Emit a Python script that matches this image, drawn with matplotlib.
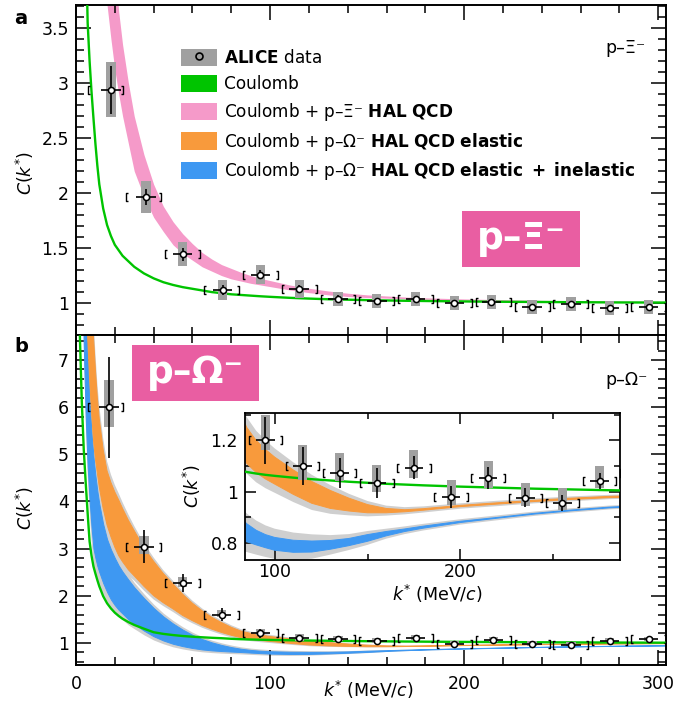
import numpy as np
import matplotlib
matplotlib.use("Agg")
import matplotlib.pyplot as plt
from matplotlib.patches import Rectangle, Patch
from matplotlib.lines import Line2D
from matplotlib.path import Path
from matplotlib.ticker import MultipleLocator, FormatStrFormatter

plt.rcParams['font.family'] = ['DejaVu Sans']
plt.rcParams['mathtext.fontset'] = 'dejavusans'

GREEN = '#00c400'
PINK = '#f59ac9'
ORANGE = '#f89a3c'
BLUE = '#3e98f2'
BAND_GRAY = '#cfcfcf'
BOX_GRAY = '#a0a0a0'
TAG_PINK = '#e95ea2'
FS = 12.5
nan = np.nan

# k* bin edges of the measured correlation functions (MeV/c)
bin_edges = [5, 25, 45, 65, 85, 105, 125, 145, 165, 185, 205, 225, 245, 265, 285, 305]

# ---- p-Xi- measurement ----
k_xi = [18, 36, 55, 75.5, 95, 115, 135, 155, 175, 195, 214, 235, 255, 275, 295]
c_xi = [2.94, 1.965, 1.445, 1.12, 1.26, 1.13, 1.04, 1.02, 1.035, 1.0, 1.01, 0.965, 0.99, 0.955, 0.965]
stat_xi = [0.22, 0.075, 0.06, 0.045, 0.04, 0.035, 0.03, 0.03, 0.03, 0.03, 0.03, 0.03, 0.03, 0.03, 0.03]
sys_xi = [0.25, 0.145, 0.11, 0.09, 0.09, 0.08, 0.065, 0.065, 0.065, 0.065, 0.065, 0.065, 0.065, 0.065, 0.065]

# ---- p-Omega- measurement ----
k_om = [17, 35, 55, 75, 95, 115, 135, 155, 175, 195, 215, 235, 255, 275, 295]
c_om = [6.0, 3.04, 2.27, 1.6, 1.2, 1.10, 1.074, 1.035, 1.093, 0.98, 1.054, 0.977, 0.957, 1.043, 1.075]
stat_om = [1.07, 0.35, 0.19, 0.14, 0.093, 0.075, 0.058, 0.058, 0.045, 0.042, 0.042, 0.036, 0.032, 0.032, 0.032]
sys_up_om = [0.57, 0.22, 0.12, 0.09, 0.1, 0.083, 0.077, 0.07, 0.07, 0.067, 0.064, 0.058, 0.058, 0.057, 0.057]
sys_dn_om = [0.42, 0.15, 0.08, 0.05, 0.037, 0.053, 0.034, 0.035, 0.04, 0.03, 0.039, 0.034, 0.027, 0.028, 0.028]

# ---- model curves, sampled in k* (MeV/c) ----
k_th = [2, 3, 4, 5, 6, 7, 8, 9, 10, 11, 12, 14, 16, 18, 20, 22, 24, 27, 30,
        35, 40, 45, 50, 55, 60, 65, 70, 75, 80, 85, 90, 95, 100,
        110, 120, 130, 140, 150, 160, 170, 180, 200, 220, 240, 260, 280, 305]

coulomb_xi = [nan, nan, 6.0, 4.4, 3.55, 3.2, 2.92, 2.68, 2.45, 2.25, 2.08, 1.86, 1.71, 1.61, 1.53, 1.48, 1.43, 1.38, 1.33,
              1.27, 1.225, 1.19, 1.165, 1.145, 1.13, 1.115, 1.10, 1.09, 1.08, 1.074, 1.068, 1.062, 1.057,
              1.048, 1.041, 1.035, 1.031, 1.027, 1.024, 1.021, 1.019, 1.015, 1.012, 1.01, 1.008, 1.006, 1.005]
halqcd_xi_lo = [nan, nan, nan, nan, nan, nan, nan, nan, nan, nan, nan, 4.3, 3.71, 3.4, 3.12, 2.9, 2.7, 2.45, 2.2,
                1.97, 1.78, 1.65, 1.53, 1.45, 1.39, 1.33, 1.29, 1.25, 1.22, 1.2, 1.18, 1.165, 1.15,
                1.12, 1.095, 1.075, 1.06, 1.05, 1.045, 1.04, 1.035, 1.028, 1.022, 1.018, 1.014, 1.011, 1.009]
halqcd_xi_hi = [nan, nan, nan, nan, nan, nan, nan, nan, nan, nan, nan, 6.5, 5.3, 4.7, 4.1, 3.65, 3.35, 3.0, 2.7,
                2.35, 2.08, 1.88, 1.74, 1.63, 1.54, 1.46, 1.4, 1.35, 1.315, 1.28, 1.25, 1.225, 1.205,
                1.165, 1.135, 1.11, 1.09, 1.075, 1.065, 1.055, 1.048, 1.038, 1.031, 1.025, 1.021, 1.018, 1.015]

coulomb_om = [7.5, 6.1, 5.1, 4.4, 3.75, 3.15, 2.85, 2.62, 2.47, 2.33, 2.2, 1.99, 1.84, 1.73, 1.64, 1.57, 1.51, 1.44, 1.38,
              1.3, 1.225, 1.19, 1.165, 1.145, 1.13, 1.118, 1.107, 1.098, 1.086, 1.077, 1.071, 1.066, 1.062,
              1.055, 1.049, 1.044, 1.039, 1.035, 1.031, 1.028, 1.025, 1.02, 1.016, 1.012, 1.009, 1.006, 1.003]
inel_om_lo = [nan, 9.5, 7.3, 5.8, 4.75, 4.03, 3.45, 3.0, 2.8, 2.63, 2.5, 2.27, 2.08, 1.92, 1.8, 1.7, 1.62, 1.5, 1.4,
              1.26, 1.14, 1.05, 0.98, 0.93, 0.89, 0.86, 0.84, 0.826, 0.815, 0.805, 0.793, 0.782, 0.772,
              0.764, 0.765, 0.776, 0.79, 0.807, 0.828, 0.845, 0.858, 0.88, 0.897, 0.913, 0.926, 0.937, 0.946]
inel_om_hi = [nan, 13.0, 9.8, 8.1, 7.0, 6.1, 5.45, 4.95, 4.55, 4.22, 3.95, 3.52, 3.2, 2.98, 2.8, 2.64, 2.51, 2.34, 2.18,
              1.95, 1.74, 1.56, 1.41, 1.28, 1.17, 1.08, 1.01, 0.955, 0.91, 0.875, 0.85, 0.833, 0.822,
              0.811, 0.808, 0.81, 0.818, 0.833, 0.845, 0.855, 0.866, 0.885, 0.9, 0.916, 0.929, 0.94, 0.949]
el_om_lo = [nan, nan, 12.0, 9.0, 7.5, 6.6, 5.9, 5.3, 4.9, 4.6, 4.3, 3.85, 3.5, 3.25, 3.03, 2.85, 2.72, 2.55, 2.42,
            2.2, 2.0, 1.85, 1.72, 1.58, 1.47, 1.37, 1.29, 1.22, 1.16, 1.11, 1.075, 1.05, 1.03,
            0.99, 0.955, 0.935, 0.925, 0.918, 0.918, 0.922, 0.928, 0.942, 0.952, 0.962, 0.97, 0.977, 0.982]
el_om_hi = [nan, nan, 20.0, 16.0, 13.0, 11.0, 9.0, 7.5, 6.8, 6.2, 5.75, 5.1, 4.65, 4.4, 4.2, 4.03, 3.85, 3.6, 3.38,
            3.02, 2.73, 2.47, 2.25, 2.03, 1.84, 1.68, 1.54, 1.43, 1.33, 1.25, 1.2, 1.165, 1.135,
            1.085, 1.04, 1.005, 0.975, 0.95, 0.935, 0.93, 0.934, 0.947, 0.957, 0.967, 0.975, 0.982, 0.987]
# width of the light grey uncertainty envelope around the p-Omega- bands
band_pad = [0.4, 0.4, 0.4, 0.4, 0.4, 0.4, 0.4, 0.4, 0.35, 0.3, 0.28, 0.24, 0.2, 0.17, 0.15, 0.14, 0.13, 0.12, 0.1,
            0.09, 0.08, 0.07, 0.065, 0.06, 0.055, 0.05, 0.047, 0.045, 0.043, 0.04, 0.038, 0.036, 0.034,
            0.03, 0.026, 0.021, 0.017, 0.014, 0.011, 0.01, 0.009, 0.008, 0.008, 0.007, 0.007, 0.006, 0.006]

k_th_a = np.array(k_th, dtype=float)
pad = np.array(band_pad)

LEFT_BRACKET = Path([(0.55, -1), (0, -1), (0, 1), (0.55, 1)],
                    [Path.MOVETO, Path.LINETO, Path.LINETO, Path.LINETO])
RIGHT_BRACKET = Path([(-0.55, -1), (0, -1), (0, 1), (-0.55, 1)],
                     [Path.MOVETO, Path.LINETO, Path.LINETO, Path.LINETO])


def draw_points(ax, k, c, stat, sys_dn, sys_up):
    k = np.asarray(k, float)
    c = np.asarray(c, float)
    sys_dn = np.asarray(sys_dn, float)
    sys_up = np.asarray(sys_up, float)
    edges = np.asarray(bin_edges, float)
    ax.bar(k, sys_dn + sys_up, bottom=c - sys_dn, width=4.8, color=BOX_GRAY,
           linewidth=0, zorder=5)
    ax.errorbar(k, c, yerr=stat, xerr=5, fmt='none', ecolor='black',
                elinewidth=1.2, capsize=0, zorder=6)
    ax.plot(edges[:-1] + 1, c, ls='none', marker=LEFT_BRACKET, ms=5.5,
            mec='black', mfc='none', mew=1.0, zorder=6)
    ax.plot(edges[1:] - 1, c, ls='none', marker=RIGHT_BRACKET, ms=5.5,
            mec='black', mfc='none', mew=1.0, zorder=6)
    ax.plot(k, c, ls='none', marker='o', ms=4.4, mfc='white', mec='black',
            mew=1.1, zorder=7)


def draw_omega_models(ax):
    for lo, hi, col in ((inel_om_lo, inel_om_hi, BLUE), (el_om_lo, el_om_hi, ORANGE)):
        lo = np.array(lo)
        hi = np.array(hi)
        ax.fill_between(k_th_a, lo - pad, hi + pad, color=BAND_GRAY, lw=0, zorder=1)
        ax.fill_between(k_th_a, lo, hi, facecolor=col, edgecolor=col, lw=0.7, zorder=2)
    ax.plot(k_th_a, coulomb_om, color=GREEN, lw=1.7, zorder=3)


def style(ax, major, minor, pad_x, pad_y, lw=1.4):
    ax.tick_params(which='both', direction='in', top=True, right=True,
                   width=1.1, colors='black', labelsize=FS)
    ax.tick_params(which='major', length=major)
    ax.tick_params(which='minor', length=minor)
    ax.tick_params(axis='x', pad=pad_x)
    ax.tick_params(axis='y', pad=pad_y)
    for s in ax.spines.values():
        s.set_linewidth(lw)
    ax.yaxis.set_major_formatter(FormatStrFormatter('%g'))


fig = plt.figure(figsize=(6.8, 7.07), dpi=100)
W, H = 680.0, 707.0

ax_a = fig.add_axes([76 / W, 1 - 335 / H, 590 / W, 330 / H])
ax_b = fig.add_axes([76 / W, 1 - 665 / H, 590 / W, 330 / H])
ax_in = fig.add_axes([245 / W, 1 - 560 / H, 375 / W, 147 / H])

# ---------- panel a: p-Xi- ----------
ax_a.fill_between(k_th_a, halqcd_xi_lo, halqcd_xi_hi, color=PINK, lw=0, zorder=1)
ax_a.plot(k_th_a, coulomb_xi, color=GREEN, lw=1.7, zorder=3)
draw_points(ax_a, k_xi, c_xi, stat_xi, sys_xi, sys_xi)
ax_a.set_xlim(0, 304)
ax_a.set_ylim(0.71, 3.71)
ax_a.xaxis.set_major_locator(MultipleLocator(100))
ax_a.xaxis.set_minor_locator(MultipleLocator(20))
ax_a.yaxis.set_major_locator(MultipleLocator(0.5))
ax_a.yaxis.set_minor_locator(MultipleLocator(0.1))
style(ax_a, 11, 5.5, 7, 5)
ax_a.tick_params(labelbottom=False)

handles = [
    (Patch(facecolor=BOX_GRAY, lw=0),
     Line2D([], [], ls='none', marker='o', ms=5, mfc='none', mec='black', mew=1.2)),
    Patch(facecolor=GREEN, lw=0),
    Patch(facecolor=PINK, lw=0),
    Patch(facecolor=ORANGE, lw=0),
    Patch(facecolor=BLUE, lw=0),
]
labels = [
    r'$\mathbf{ALICE}$ data',
    'Coulomb',
    r'Coulomb + p–Ξ⁻ $\mathbf{HAL\ QCD}$',
    r'Coulomb + p–Ω⁻ $\mathbf{HAL\ QCD\ elastic}$',
    r'Coulomb + p–Ω⁻ $\mathbf{HAL\ QCD\ elastic\ +\ inelastic}$',
]
ax_a.legend(handles, labels, loc='upper left', bbox_to_anchor=(0.178, 0.867),
            frameon=False, fontsize=12.2, handlelength=2.15, handleheight=1.2,
            handletextpad=0.4, labelspacing=0.45, borderaxespad=0, borderpad=0)

ax_a.text(0.897, 0.87, 'p–Ξ⁻', transform=ax_a.transAxes, fontsize=FS,
          ha='left', va='center')
ax_a.add_patch(Rectangle((0.654, 0.206), 0.2, 0.17, transform=ax_a.transAxes,
                         facecolor=TAG_PINK, lw=0, zorder=8))
ax_a.text(0.654 + 0.1, 0.206 + 0.085, 'p–Ξ⁻', transform=ax_a.transAxes,
          fontsize=27, fontweight='bold', color='white', ha='center',
          va='center', zorder=9)

# ---------- panel b: p-Omega- ----------
draw_omega_models(ax_b)
draw_points(ax_b, k_om, c_om, stat_om, sys_dn_om, sys_up_om)
ax_b.set_xlim(0, 304)
ax_b.set_ylim(0.53, 7.53)
ax_b.xaxis.set_major_locator(MultipleLocator(100))
ax_b.xaxis.set_minor_locator(MultipleLocator(20))
ax_b.yaxis.set_major_locator(MultipleLocator(1))
ax_b.yaxis.set_minor_locator(MultipleLocator(0.2))
style(ax_b, 11, 5.5, 7, 5)

ax_b.text(0.897, 0.864, 'p–Ω⁻', transform=ax_b.transAxes, fontsize=FS,
          ha='left', va='center')
ax_b.add_patch(Rectangle((0.095, 0.8), 0.215, 0.17, transform=ax_b.transAxes,
                         facecolor=TAG_PINK, lw=0, zorder=8))
ax_b.text(0.095 + 0.1075, 0.8 + 0.085, 'p–Ω⁻', transform=ax_b.transAxes,
          fontsize=27, fontweight='bold', color='white', ha='center',
          va='center', zorder=9)

# ---------- inset: zoom of panel b ----------
draw_omega_models(ax_in)
draw_points(ax_in, k_om, c_om, stat_om, sys_dn_om, sys_up_om)
ax_in.set_xlim(84, 286)
ax_in.set_ylim(0.734, 1.307)
ax_in.xaxis.set_major_locator(MultipleLocator(100))
ax_in.xaxis.set_minor_locator(MultipleLocator(50))
ax_in.yaxis.set_major_locator(MultipleLocator(0.2))
ax_in.yaxis.set_minor_locator(MultipleLocator(0.1))
style(ax_in, 8, 4, 2, 5, lw=1.3)
ax_in.set_facecolor('white')

# ---------- labels ----------
fig.text(25 / W, 1 - 173 / H, r'$C(k^{*})$', rotation=90, fontsize=FS, ha='center', va='center')
fig.text(25 / W, 1 - 508 / H, r'$C(k^{*})$', rotation=90, fontsize=FS, ha='center', va='center')
fig.text(368 / W, 1 - 690 / H, r'$k^{*}$ (MeV/$c$)', fontsize=FS, ha='center', va='center')
fig.text(192 / W, 1 - 486 / H, r'$C(k^{*})$', rotation=90, fontsize=FS, ha='center', va='center')
fig.text(437 / W, 1 - 594 / H, r'$k^{*}$ (MeV/$c$)', fontsize=FS, ha='center', va='center')
fig.text(21 / W, 1 - 18 / H, 'a', fontsize=14, fontweight='bold', ha='center', va='center')
fig.text(21 / W, 1 - 347 / H, 'b', fontsize=14, fontweight='bold', ha='center', va='center')

fig.savefig('out.png', dpi=100)
